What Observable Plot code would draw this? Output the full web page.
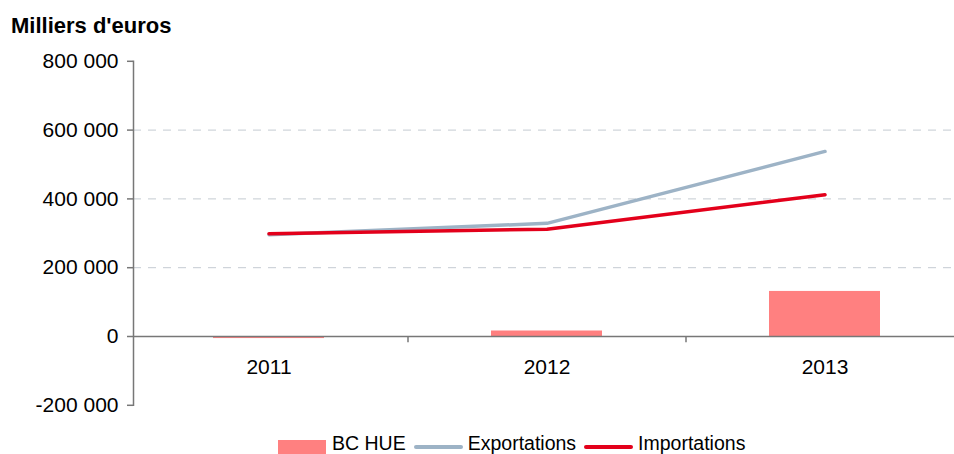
<!DOCTYPE html>
<html>
<head>
<meta charset="utf-8">
<script src="https://cdn.jsdelivr.net/npm/d3@7"></script>
<script src="https://cdn.jsdelivr.net/npm/@observablehq/plot@0.6"></script>
<style>
  html, body { margin: 0; padding: 0; background: #fff; }
  #wrap { position: relative; width: 954px; height: 454px; overflow: hidden; font-family: "Liberation Sans", Arial, Helvetica, sans-serif; }
  #title { position: absolute; left: 11px; top: 14.5px; font-size: 22px; font-weight: bold; line-height: 22px; color: #000; white-space: nowrap; }
  #chart { position: absolute; left: 0; top: 0; }
  #legend { position: absolute; left: 278px; top: 433px; display: flex; align-items: flex-start; font-size: 19.5px; line-height: 21px; color: #000; white-space: nowrap; }
  .sw-rect { width: 48px; height: 16px; margin-top: 7px; margin-right: 6px; }
  .sw-line { width: 49px; height: 4px; border-radius: 2px; margin-top: 12px; margin-right: 5px; }
  .lab { margin-right: 8px; }
</style>
</head>
<body>
<div id="wrap">
  <div id="chart"></div>
  <div id="title"></div>
  <div id="legend"></div>
</div>
<script>
// ---- data ----
const title = "Milliers d'euros";
const years = ["2011", "2012", "2013"];
const bcHue = [-6000, 16000, 131000];
const exportations = [296000, 329000, 538000];
const importations = [299000, 312000, 412000];
const yTicks = [-200000, 0, 200000, 400000, 600000, 800000];
const gridTicks = [200000, 400000, 600000];
const seriesNames = ["BC HUE", "Exportations", "Importations"];
const seriesColors = ["#FF8080", "#9DB3C6", "#E3001B"];

const rows = years.map((y, i) => ({year: y, bc: bcHue[i], exp: exportations[i], imp: importations[i]}));

const W = 954, H = 454;
const left = 133;
const bandLeft = 130, bandRight = 964;
const step = (bandRight - bandLeft) / years.length;

const fmt = d3.formatLocale({thousands: "\u00a0", grouping: [3], decimal: ",", minus: "-", currency: ["", ""]}).format(",");

const plot = Plot.plot({
  width: W,
  height: H,
  marginLeft: left,
  marginRight: 0,
  marginTop: 60.8,
  marginBottom: 49.2,
  style: {fontFamily: "\"Liberation Sans\", Arial, Helvetica, sans-serif", fontSize: "20px", background: "transparent", overflow: "hidden"},
  x: {type: "band", domain: years, range: [bandLeft, bandRight], paddingInner: 0.6, paddingOuter: 0.3, axis: null},
  y: {domain: [-200000, 800000], axis: null},
  marks: [
    Plot.ruleY(gridTicks, {stroke: "#C4CBD2", strokeWidth: 1, strokeDasharray: "8,7"}),
    Plot.barY(rows, {x: "year", y1: 0, y2: "bc", fill: seriesColors[0]}),
    Plot.ruleY([0], {stroke: "#777", strokeWidth: 1.5}),
    Plot.ruleX(years.slice(1), {x: d => d, y1: 0, y2: -18000, dx: -step / 2, stroke: "#777", strokeWidth: 1.5}),
    Plot.lineY(rows, {x: "year", y: "exp", stroke: seriesColors[1], strokeWidth: 3.5, strokeLinecap: "round"}),
    Plot.lineY(rows, {x: "year", y: "imp", stroke: seriesColors[2], strokeWidth: 3.5, strokeLinecap: "round"}),
    Plot.frame({anchor: "left", stroke: "#777", strokeWidth: 1.5}),
    Plot.axisY({ticks: yTicks, tickFormat: fmt, tickSize: 6, tickPadding: 9, fontSize: 21, stroke: "#777", strokeWidth: 1.5, fill: "#000"}),
    Plot.text(years, {x: d => d, y: 0, text: d => d, dy: 37.5, lineAnchor: "bottom", textAnchor: "middle", fontSize: 21, fill: "#000"})
  ]
});
document.getElementById("chart").appendChild(plot);

document.getElementById("title").textContent = title;

const legend = document.getElementById("legend");
seriesNames.forEach((name, i) => {
  const sw = document.createElement("div");
  sw.className = i === 0 ? "sw-rect" : "sw-line";
  sw.style.background = seriesColors[i];
  legend.appendChild(sw);
  const lab = document.createElement("div");
  lab.className = "lab";
  lab.textContent = name;
  legend.appendChild(lab);
});
</script>
</body>
</html>
